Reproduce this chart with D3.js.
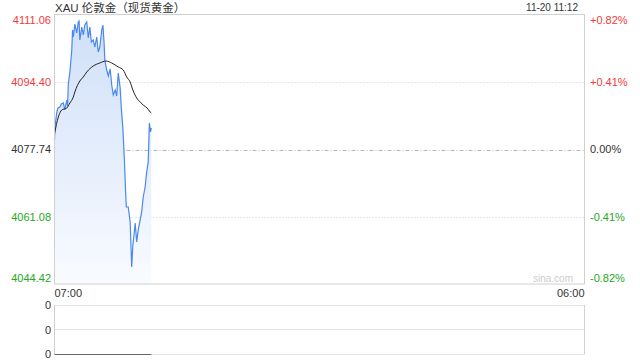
<!DOCTYPE html>
<html>
<head>
<meta charset="utf-8">
<script src="https://cdn.jsdelivr.net/npm/d3@7"></script>
<style>
  html, body { margin: 0; padding: 0; background: #fff; }
  svg { display: block; font-family: "Liberation Sans", Arial, "Noto Sans CJK SC", sans-serif; }
</style>
</head>
<body>
<svg id="chart" width="640" height="360"></svg>
<script>
// price line (minute time, price)
const priceTimes = ['07:00','07:01','07:06','07:09','07:14','07:18','07:23','07:27','07:32','07:34',
  '07:36','07:40','07:45','07:47','07:49','07:53','07:58','08:02','08:04','08:06',
  '08:11','08:15','08:19','08:24','08:28','08:32','08:36','08:41','08:45','08:50',
  '08:54','08:58','09:03','09:06','09:09','09:11','09:16','09:20','09:25','09:29',
  '09:33','09:38','09:42','09:46','09:51','09:54','09:58','10:02','10:05','10:07',
  '10:12','10:17','10:19','10:21','10:24','10:27','10:30','10:34','10:38','10:43',
  '10:47','10:51','10:56','11:00','11:04','11:07','11:10','11:12'];
const prices = [4080.09,4083.07,4087.03,4088.02,4088.27,4089.01,4089.26,4087.53,4090.00,4088.52,
  4093.97,4096.94,4102.39,4107.34,4105.61,4108.83,4106.60,4109.33,4109.57,4104.87,
  4108.09,4106.11,4108.58,4109.33,4105.36,4108.09,4104.37,4104.87,4103.13,4105.61,
  4101.89,4103.13,4107.34,4108.58,4104.37,4099.91,4097.43,4095.95,4097.68,4093.72,
  4091.24,4092.48,4090.99,4096.69,4092.98,4088.02,4083.07,4075.14,4067.71,4063.50,
  4063.50,4059.78,4054.08,4048.63,4054.08,4056.56,4059.53,4054.83,4057.80,4060.28,
  4062.26,4065.97,4068.45,4072.17,4074.64,4084.31,4082.08,4083.07];

// average price line
const avgTimes = ['07:00','07:10','07:19','07:32','07:40','07:49','07:53','08:06','08:15','08:24',
  '08:41','08:58','09:14','09:29','09:46','09:59','10:08','10:17','10:24','10:34',
  '10:43','10:51','11:01','11:09','11:12'];
const avgPrices = [4081.60,4085.79,4087.53,4088.02,4089.26,4090.75,4091.98,4094.71,4095.70,4096.94,
  4098.43,4099.17,4099.66,4099.17,4098.18,4097.43,4095.70,4094.46,4092.48,4090.50,
  4089.51,4088.76,4088.02,4087.03,4086.78];

// volume (all zero)
const volTimes = ['07:00','11:12'];
const volumes = [0, 0];

const prevClose = 4077.74;
const priceTicks = [4111.06, 4094.40, 4077.74, 4061.08, 4044.42];
const pctLabels = ['+0.82%', '+0.41%', '0.00%', '-0.41%', '-0.82%'];
const timeLabels = ['07:00', '06:00'];
const volLabels = ['0', '0', '0'];
const title = 'XAU 伦敦金（现货黄金）';
const stamp = '11-20 11:12';

const RED = '#f23b3b', GREEN = '#26a826', TXT = '#333';

// minutes since 07:00 (session runs 07:00 -> 06:00 next day)
function mins(t) {
  const [h, m] = t.split(':').map(Number);
  let v = h * 60 + m - 7 * 60;
  if (v < 0) v += 1440;
  return v;
}

const svg = d3.select('#chart');
const L = 54.5, R = 584.5, T = 15, B = 284;
const VT = 305, VB = 354.5;

const x = d3.scaleLinear().domain([0, 1380]).range([L, R]);
const y = d3.scaleLinear().domain([priceTicks[4], priceTicks[0]]).range([B, T]);
const yv = d3.scaleLinear().domain([0, 1]).range([VB, VT]);

const priceData = priceTimes.map((t, i) => ({ t: mins(t), v: prices[i] }));
const avgData = avgTimes.map((t, i) => ({ t: mins(t), v: avgPrices[i] }));
const volData = volTimes.map((t, i) => ({ t: mins(t), v: volumes[i] }));

// gradient for area
const defs = svg.append('defs');
const grad = defs.append('linearGradient').attr('id', 'fillGrad')
  .attr('gradientUnits', 'userSpaceOnUse')
  .attr('x1', 0).attr('x2', 0).attr('y1', T).attr('y2', B);
grad.append('stop').attr('offset', '0%').attr('stop-color', '#cfdff8');
grad.append('stop').attr('offset', '100%').attr('stop-color', '#f9fbff');

// gridlines
priceTicks.slice(1, 4).forEach(v => {
  svg.append('line')
    .attr('x1', L).attr('x2', R)
    .attr('y1', Math.round(y(v)) + 0.5).attr('y2', Math.round(y(v)) + 0.5)
    .attr('stroke', v === prevClose ? '#b5b5b5' : '#cfcfcf')
    .attr('stroke-dasharray', v === prevClose ? '4,2,1,2' : '1,2');
});

// area + lines
svg.append('path')
  .datum(priceData)
  .attr('fill', 'url(#fillGrad)')
  .attr('d', d3.area().x(d => x(d.t)).y0(B).y1(d => y(d.v)));

svg.append('path')
  .datum(priceData)
  .attr('fill', 'none')
  .attr('stroke', '#4a88ee')
  .attr('stroke-width', 1.2)
  .attr('d', d3.line().x(d => x(d.t)).y(d => y(d.v)));

svg.append('path')
  .datum(avgData)
  .attr('fill', 'none')
  .attr('stroke', '#222')
  .attr('stroke-width', 1)
  .attr('d', d3.line().curve(d3.curveMonotoneX).x(d => x(d.t)).y(d => y(d.v)));

// main frame
svg.append('rect')
  .attr('x', L).attr('y', 14.5).attr('width', R - L).attr('height', B - 14.5)
  .attr('fill', 'none').attr('stroke', '#d0d0d0');

// left price labels
const labelOffset = i => i === 0 ? 5 : (i === priceTicks.length - 1 ? -6 : 0);
svg.selectAll('.pl').data(priceTicks).enter().append('text')
  .attr('x', 51).attr('y', (d, i) => y(d) + labelOffset(i))
  .attr('dy', '0.35em').attr('text-anchor', 'end').attr('font-size', 11)
  .attr('fill', d => d > prevClose ? RED : d < prevClose ? GREEN : TXT)
  .text(d => d.toFixed(2));

// right pct labels
svg.selectAll('.pr').data(pctLabels).enter().append('text')
  .attr('x', 590).attr('y', (d, i) => y(priceTicks[i]) + labelOffset(i))
  .attr('dy', '0.35em').attr('font-size', 11)
  .attr('fill', d => d[0] === '+' ? RED : d[0] === '-' ? GREEN : TXT)
  .text(d => d);

// title and timestamp
svg.append('text').attr('x', 55).attr('y', 12).attr('font-size', 11.5).attr('fill', TXT).text(title);
svg.append('text').attr('x', 578).attr('y', 11).attr('font-size', 10).attr('text-anchor', 'end').attr('fill', TXT).text(stamp);

// watermark
svg.append('text').attr('x', 573).attr('y', 278).attr('dy', '0.35em').attr('font-size', 10)
  .attr('text-anchor', 'end').attr('fill', '#cccccc').text('sina.com');

// time labels
svg.append('text').attr('x', x(mins(timeLabels[0]))).attr('y', 293).attr('dy', '0.35em')
  .attr('font-size', 11).attr('fill', TXT).text(timeLabels[0]);
svg.append('text').attr('x', x(1380)).attr('y', 293).attr('dy', '0.35em')
  .attr('font-size', 11).attr('text-anchor', 'end').attr('fill', TXT).text(timeLabels[1]);

// volume panel
[VT, (VT + VB) / 2, VB].forEach(yy => {
  svg.append('line').attr('x1', L).attr('x2', R)
    .attr('y1', Math.floor(yy) + 0.5).attr('y2', Math.floor(yy) + 0.5)
    .attr('stroke', '#c8c8c8').attr('stroke-dasharray', '1,1');
});
[L, R].forEach(xx => {
  svg.append('line').attr('x1', xx).attr('x2', xx).attr('y1', VT).attr('y2', VB)
    .attr('stroke', '#d0d0d0');
});
svg.append('path')
  .datum(volData)
  .attr('fill', 'none').attr('stroke', '#666').attr('stroke-width', 1)
  .attr('d', d3.line().x(d => x(d.t)).y(d => yv(d.v)));

svg.selectAll('.vl').data(volLabels).enter().append('text')
  .attr('x', 51).attr('y', (d, i) => VT + i * (VB - VT) / 2)
  .attr('dy', '0.35em').attr('text-anchor', 'end').attr('font-size', 11)
  .attr('fill', TXT).text(d => d);
</script>
</body>
</html>
